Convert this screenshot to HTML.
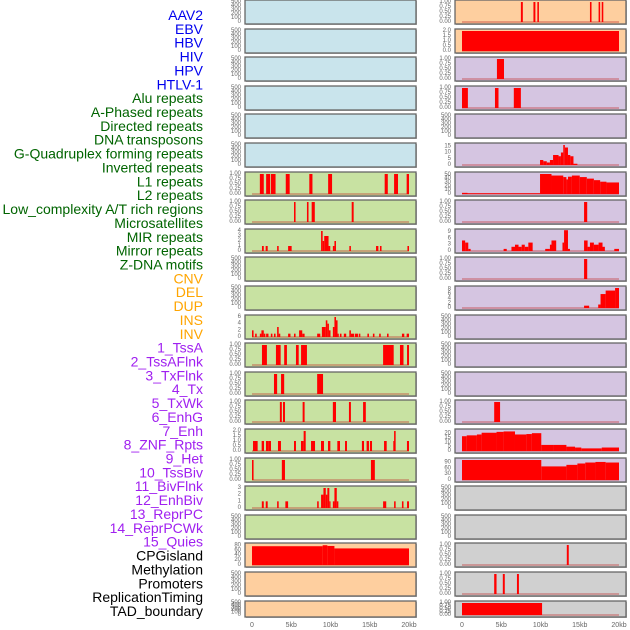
<!DOCTYPE html>
<html><head><meta charset="utf-8"><style>
html,body{margin:0;padding:0;background:#fff;width:630px;height:630px;overflow:hidden}
svg{display:block;font-family:"Liberation Sans",sans-serif}
</style></head><body>
<svg id="chart" width="630" height="630"></svg>
<script>
const labels=["AAV2","EBV","HBV","HIV","HPV","HTLV-1","Alu repeats","A-Phased repeats","Directed repeats","DNA transposons","G-Quadruplex forming repeats","Inverted repeats","L1 repeats","L2 repeats","Low_complexity A/T rich regions","Microsatellites","MIR repeats","Mirror repeats","Z-DNA motifs","CNV","DEL","DUP","INS","INV","1_TssA","2_TssAFlnk","3_TxFlnk","4_Tx","5_TxWk","6_EnhG","7_Enh","8_ZNF_Rpts","9_Het","10_TssBiv","11_BivFlnk","12_EnhBiv","13_ReprPC","14_ReprPCWk","15_Quies","CPGisland","Methylation","Promoters","ReplicationTiming","TAD_boundary"];
const labelColors=["#0000ee","#0000ee","#0000ee","#0000ee","#0000ee","#0000ee","#006400","#006400","#006400","#006400","#006400","#006400","#006400","#006400","#006400","#006400","#006400","#006400","#006400","#ffa500","#ffa500","#ffa500","#ffa500","#ffa500","#a020f0","#a020f0","#a020f0","#a020f0","#a020f0","#a020f0","#a020f0","#a020f0","#a020f0","#a020f0","#a020f0","#a020f0","#a020f0","#a020f0","#a020f0","#000","#000","#000","#000","#000"];
const E=["0","100","200","300","400","500"], B=["0.00","0.25","0.50","0.75","1.00"];
const panelTicks=[E,E,E,E,E,E,B,B,["0","1","2","3","4"],E,E,["0","2","4","6"],B,B,B,["0.0","0.5","1.0","1.5","2.0"],B,["0","1","2","3"],E,["0","20","40","60","80"],E,E,
 B,["0.0","0.5","1.0","1.5","2.0"],B,B,E,["0","5","10","15"],["0","10","20","30","40","50"],B,["0","3","6","9"],B,["0","2","4","6","8"],E,E,E,B,["0","5","10","15","20"],["0","30","60","90"],E,E,B,B,B];
const panelMax=[500,500,500,500,500,500,1,1,4,500,500,6,1,1,1,2,1,3,500,82,500,500,
 1,2,1,1,500,16,52,1,9.5,1,8.6,500,500,500,1,23,103,500,500,1,1,1];
const panelBars=[[],[],[],[],[],[],
[[1.0,1.5,1],[1.8,2.3,1],[2.4,3.0,1],[4.3,4.8,1],[7.3,7.7,1],[9.7,10.2,1],[16.9,17.3,1],[18.1,18.6,1],[19.7,20,1]],
[[5.35,5.55,1],[7.0,7.2,1],[7.6,8.0,1],[12.7,12.95,1]],
[[1.27,1.5,1],[1.74,2.0,1],[3.2,3.4,1],[4.6,5.05,1],[8.8,9.0,4],[9.0,9.2,2],[9.2,9.75,3],[9.75,9.97,1],[10.3,10.5,1],[10.5,10.7,2],[12.4,12.6,1],[15.8,16.1,1],[16.3,16.5,1],[19.8,20,1]],
[],[],
[[0,0.2,2],[0.4,0.6,1],[1.0,1.2,1],[1.2,1.5,2],[1.5,1.7,1],[1.8,2.1,1],[2.4,2.6,1],[2.8,3.0,1],[3.2,3.4,3],[3.4,3.6,1],[4.6,4.9,1],[5.35,5.55,1],[6.0,6.4,2],[6.4,6.7,1],[8.3,8.7,1],[8.9,9.4,3],[9.4,9.6,5],[9.6,9.8,4],[9.8,10.0,2],[10.3,10.5,3],[10.5,10.7,6],[10.7,10.9,5],[10.9,11.0,1],[11.2,11.4,1],[11.7,12.0,1],[12.4,12.6,2],[12.6,13.0,1],[13.1,13.5,1],[13.6,13.8,1],[14.7,14.9,1],[15.4,15.6,1],[16.2,16.4,1],[17.2,17.4,1],[19.1,19.4,1],[19.7,20,1]],
[[1.27,1.9,1],[3.05,3.65,1],[4.1,4.45,1],[5.6,5.95,1],[6.25,7.0,1],[16.7,18.05,1],[18.85,19.3,1],[19.75,20,1]],
[[2.8,3.2,1],[3.7,4.1,1],[8.3,9.05,1]],
[[3.55,3.8,1],[3.95,4.2,1],[6.45,6.7,1],[10.3,10.7,1],[12.35,12.6,1],[14.15,14.5,1]],
[[0.13,0.38,1],[0.38,0.72,1],[1.23,1.53,1],[1.78,2.08,1],[2.08,2.42,1],[3.31,3.69,1],[5.35,5.6,1],[6.24,6.58,1],[6.58,6.84,2],[7.52,8.03,1],[8.79,9.17,1],[9.68,9.98,1],[10.87,11.21,1],[11.85,12.1,1],[14.0,14.27,1],[14.6,14.9,1],[15.03,15.29,1],[16.82,17.16,1],[18.0,18.1,1],[18.1,18.3,2],[19.74,20,1]],
[[0,0.2,1],[3.8,4.2,1],[15.15,15.65,1]],
[[1.25,1.5,1],[1.75,2.0,1],[3.2,3.4,1],[4.25,4.6,1],[8.3,8.5,1],[8.8,9.1,2],[9.1,9.4,3],[9.4,9.6,2],[9.6,9.85,3],[9.85,10.0,1],[10.3,10.5,1],[10.5,10.8,3],[10.8,11.0,1],[16.7,17.1,1],[18.1,18.3,1],[19.1,19.3,1],[19.75,20,1]],
[],
[[0,9,77],[9,9.6,81],[9.6,10.5,78],[10.5,20,68]],
[],[],
[[7.5,7.75,1],[9.1,9.35,1],[9.6,9.8,1],[16.3,16.5,1],[17.4,17.6,1],[17.8,18.0,1]],
[[0,20,2]],
[[4.45,5.35,1]],
[[0,0.75,1],[4.2,4.65,1],[6.6,7.5,1]],
[],
[[9.94,10.36,4],[10.36,10.8,3],[10.8,11.2,2],[11.2,11.6,4],[11.6,12.3,8],[12.3,12.6,7],[12.6,12.9,10],[12.9,13.1,16],[13.1,13.5,14],[13.5,13.8,8],[13.8,14.2,7],[14.2,14.7,1]],
[[0,0.7,3],[0.7,9.94,2],[9.94,11.4,52],[11.4,12.9,48],[12.9,13.3,44],[13.3,13.5,38],[13.5,14.0,45],[14.0,15.0,48],[15.0,15.9,44],[15.9,16.8,40],[16.8,17.6,36],[17.6,18.4,32],[18.4,20,30]],
[[15.55,15.95,1]],
[[0,0.4,5],[0.4,0.8,4],[0.8,1.1,1],[5.3,5.7,1],[6.3,6.75,2],[6.75,7.2,3],[7.2,7.6,2],[7.6,8.0,3],[8.0,8.45,2],[8.45,9.0,4],[10.6,11.2,1],[11.2,11.4,3],[11.4,12.0,5],[12.8,13.0,4],[13.0,13.5,10],[13.5,13.75,1],[15.55,16.0,5],[16.0,16.3,2],[16.3,16.8,4],[16.8,17.4,3],[17.4,17.9,4],[17.9,18.2,2],[19.4,20,1]],
[[15.55,15.95,1]],
[[15.55,16.2,1],[17.35,17.65,1.5],[17.65,18.3,6],[18.3,19.5,7.5],[19.5,20,8.6]],
[],[],[],
[[4.1,4.85,1]],
[[0,0.6,17],[0.6,1.9,18],[1.9,2.5,19],[2.5,4.4,21],[4.4,5.3,22],[5.3,6.75,22.5],[6.75,8.2,19],[8.2,8.9,19.5],[8.9,10.1,20.5],[10.1,11.6,7],[11.6,13.3,7],[13.3,14.4,5],[14.4,15.2,4],[15.2,17.8,3],[17.8,20,4]],
[[0,10.1,103],[10.1,13.3,70],[13.3,14.7,78],[14.7,15.7,85],[15.7,17.0,90],[17.0,18.3,93],[18.3,20,90]],
[],[],
[[13.35,13.6,1]],
[[4.1,4.4,1],[5.2,5.45,1],[7.0,7.25,1]],
[[0,10.2,1]]];
const panelFill=["#c9e4ec","#c9e4ec","#c9e4ec","#c9e4ec","#c9e4ec","#c9e4ec","#c8e2a2","#c8e2a2","#c8e2a2","#c8e2a2","#c8e2a2","#c8e2a2","#c8e2a2","#c8e2a2","#c8e2a2","#c8e2a2","#c8e2a2","#c8e2a2","#c8e2a2","#fecf9f","#fecf9f","#fecf9f",
"#fecf9f","#fecf9f","#d5c5e1","#d5c5e1","#d5c5e1","#d5c5e1","#d5c5e1","#d5c5e1","#d5c5e1","#d5c5e1","#d5c5e1","#d5c5e1","#d5c5e1","#d5c5e1","#d5c5e1","#d5c5e1","#d5c5e1","#d0d0d0","#d0d0d0","#d0d0d0","#d0d0d0","#d0d0d0"];
const xTickValues=[0,5,10,15,20];
const xTickLabels=["0","5kb","10kb","15kb","20kb"];

const NS="http://www.w3.org/2000/svg";
const svg=document.getElementById('chart');
function mk(tag,attrs,parent){const e=document.createElementNS(NS,tag);for(const k in attrs)e.setAttribute(k,attrs[k]);(parent||svg).appendChild(e);return e;}
const cols=[{px:245,pw:171,x0:252,x1:409},{px:455,pw:171,x0:462,x1:619}];
function rowTop(r){return r===21?601:Math.round(28.6*r);}
function rowH(r){return r===21?16:24;}

labels.forEach((t,i)=>{
  const tx=mk('text',{x:203,y:15+13.86*i,'text-anchor':'end','dominant-baseline':'central','font-size':'14',fill:labelColors[i]});
  
  
  tx.textContent=t;
});

for(let p=0;p<44;p++){
  const c=cols[p<22?0:1], r=p%22, top=rowTop(r), h=rowH(r);
  const g=mk('g',{});
  
  
  mk('rect',{x:c.px+1,y:top+1,width:c.pw,height:h,fill:'#b8b8b8'},g);
  mk('rect',{x:c.px,y:top,width:c.pw,height:h,fill:panelFill[p],stroke:'#666','stroke-width':1.3},g);
  const base=top+h-2, ph=h-4, ymax=panelMax[p];
  const xs=v=>c.x0+(c.x1-c.x0)*v/20;
  const ys=v=>base-Math.min(v/ymax,1.04)*ph;
  const ticks=panelTicks[p], tmax=parseFloat(ticks[ticks.length-1]);
  ticks.forEach(tl=>{
    const v=parseFloat(tl);
    const yy=base-(v/ymax)*ph;
    const tt=mk('text',{x:c.px-4,y:yy,'text-anchor':'end','dominant-baseline':'central','font-size':'6',fill:'#666'},g);
    
    
    tt.textContent=tl;
  });
  const bars=panelBars[p];
  if(bars.length){
    mk('line',{x1:xs(0),x2:xs(20),y1:base,y2:base,stroke:'rgba(190,40,40,0.45)','stroke-width':1.5},g);
    bars.forEach(b=>{
      const y=ys(b[2]);
      const br=mk('rect',{x:xs(b[0]),y:y,width:Math.max(xs(b[1])-xs(b[0]),1.2),height:base-y,fill:'#ff0000'},g);
      
      
    });
  }
}
cols.forEach(c=>{
  xTickValues.forEach((v,i)=>{
    const t=mk('text',{x:c.x0+(c.x1-c.x0)*v/20,y:627,'text-anchor':'middle','font-size':'7',fill:'#666'});
    
    
    t.textContent=xTickLabels[i];
  });
});
</script>
</body></html>
